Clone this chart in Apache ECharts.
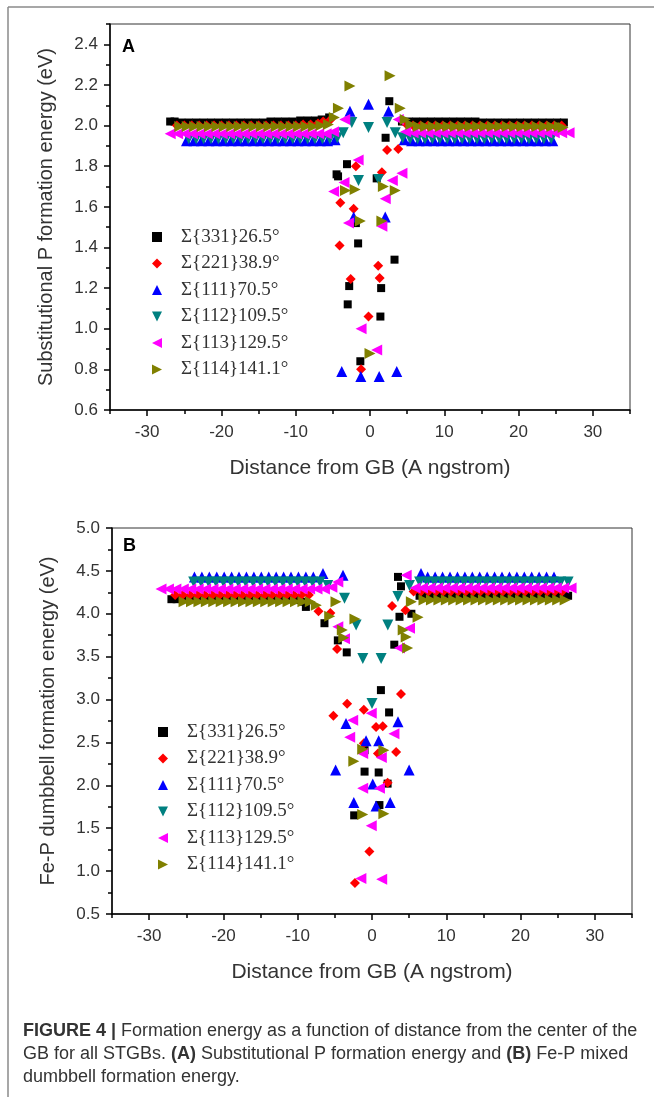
<!DOCTYPE html>
<html><head><meta charset="utf-8">
<script src="https://cdn.jsdelivr.net/npm/echarts@6/dist/echarts.min.js"></script>
<style>html,body{margin:0;padding:0;background:#fff}#c{width:654px;height:1097px}</style>
</head><body><div id="c"></div>
<script>
// ---------- DATA ----------
const seriesNames = ['Σ{331}26.5°','Σ{221}38.9°','Σ{111}70.5°','Σ{112}109.5°','Σ{113}129.5°','Σ{114}141.1°'];
const xTicksMajor = [-30,-20,-10,0,10,20,30];
const xTicksMinor = [-35,-25,-15,-5,5,15,25,35];
const yTicksMajorA = [0.6,0.8,1.0,1.2,1.4,1.6,1.8,2.0,2.2,2.4];
const yTicksMinorA = [0.7,0.9,1.1,1.3,1.5,1.7,1.9,2.1,2.3,2.5];
const yTicksMajorB = [0.5,1.0,1.5,2.0,2.5,3.0,3.5,4.0,4.5,5.0];
const yTicksMinorB = [0.75,1.25,1.75,2.25,2.75,3.25,3.75,4.25,4.75];

// Panel A: substitutional P formation energy (eV) vs distance (Å)
const A_s331 = [[-26.9,2.02],[-26.3,2.02],[-25.4,2.015],[-24.4,2.015],[-23.4,2.015],[-22.4,2.015],[-21.4,2.015],[-20.4,2.015],[-19.4,2.015],[-18.4,2.015],[-17.4,2.015],[-16.4,2.015],[-15.4,2.015],[-14.4,2.015],[-13.4,2.02],[-12.4,2.02],[-11.4,2.02],[-10.4,2.02],[-9.4,2.025],[-8.4,2.025],[-7.4,2.025],[-6.5,2.03],[-5.5,2.04],
[-4.5,1.76],[-4.3,1.75],[-3.1,1.81],[-1.9,1.52],[-1.6,1.42],[-2.8,1.21],[-3.0,1.12],[-1.3,0.84],[0.9,1.74],[2.6,2.12],[2.1,1.94],[3.3,1.34],[1.5,1.2],[1.4,1.06],
[4.3,2.02],[5.2,2.02],[6.2,2.02],[7.2,2.02],[8.2,2.02],[9.2,2.02],[10.2,2.02],[11.2,2.02],[12.2,2.02],[13.2,2.02],[14.2,2.02],[15.2,2.015],[16.2,2.015],[17.2,2.015],[18.2,2.015],[19.2,2.015],[20.2,2.015],[21.2,2.015],[22.2,2.015],[23.2,2.015],[24.2,2.015],[25.2,2.015],[26.1,2.015]];
const A_s221 = [[-26.0,2.0],[-25.0,2.0],[-24.0,2.0],[-23.0,2.0],[-22.0,2.0],[-21.0,2.0],[-20.0,2.0],[-19.0,2.0],[-18.0,2.0],[-17.0,2.0],[-16.0,2.0],[-15.0,2.0],[-14.0,2.0],[-13.0,2.0],[-12.0,2.0],[-11.0,2.0],[-10.0,2.0],[-9.0,2.005],[-8.0,2.005],[-7.0,2.01],[-6.3,2.02],[-5.3,2.03],
[-1.9,1.8],[-4.0,1.62],[-2.2,1.59],[-4.1,1.41],[-2.6,1.245],[-0.2,1.06],[-1.2,0.8],[2.3,1.88],[3.8,1.885],[1.6,1.77],[1.1,1.31],[1.3,1.25],
[4.8,2.01],[5.8,2.0],[6.8,2.0],[7.8,2.0],[8.8,2.0],[9.8,2.0],[10.8,2.0],[11.8,2.0],[12.8,2.0],[13.8,2.0],[14.8,2.0],[15.8,2.0],[16.8,2.0],[17.8,2.0],[18.8,2.0],[19.8,2.0],[20.8,2.0],[21.8,2.0],[22.8,2.0],[23.8,2.0],[24.8,2.0],[25.8,2.0]];
const A_s111 = [[-24.7,1.925],[-23.7,1.925],[-22.7,1.925],[-21.7,1.925],[-20.7,1.925],[-19.7,1.925],[-18.7,1.925],[-17.7,1.925],[-16.7,1.925],[-15.7,1.925],[-14.7,1.925],[-13.7,1.925],[-12.7,1.925],[-11.7,1.925],[-10.7,1.925],[-9.7,1.925],[-8.7,1.925],[-7.7,1.925],[-6.7,1.925],[-5.7,1.925],[-4.7,1.93],
[-2.7,2.07],[-0.2,2.105],[2.5,2.07],[-2.2,1.55],[2.05,1.55],[-3.8,0.79],[-1.24,0.765],[1.24,0.765],[3.6,0.79],
[4.6,1.93],[5.6,1.925],[6.6,1.925],[7.6,1.925],[8.6,1.925],[9.6,1.925],[10.6,1.925],[11.6,1.925],[12.6,1.925],[13.6,1.925],[14.6,1.925],[15.6,1.925],[16.6,1.925],[17.6,1.925],[18.6,1.925],[19.6,1.925],[20.6,1.925],[21.6,1.925],[22.6,1.925],[23.6,1.925],[24.6,1.925]];
const A_s112 = [[-24.4,1.935],[-23.4,1.935],[-22.4,1.935],[-21.4,1.935],[-20.4,1.935],[-19.4,1.935],[-18.4,1.935],[-17.4,1.935],[-16.4,1.935],[-15.4,1.935],[-14.4,1.935],[-13.4,1.935],[-12.4,1.935],[-11.4,1.935],[-10.4,1.935],[-9.4,1.935],[-8.4,1.935],[-7.4,1.935],[-6.4,1.935],[-5.4,1.935],[-4.4,1.94],
[-3.6,1.965],[-2.45,2.015],[-0.2,1.99],[2.3,2.015],[3.4,1.965],[-1.55,1.73],[1.15,1.735],
[4.4,1.94],[5.4,1.935],[6.4,1.935],[7.4,1.935],[8.4,1.935],[9.4,1.935],[10.4,1.935],[11.4,1.935],[12.4,1.935],[13.4,1.935],[14.4,1.935],[15.4,1.935],[16.4,1.935],[17.4,1.935],[18.4,1.935],[19.4,1.935],[20.4,1.935],[21.4,1.935],[22.4,1.935],[23.4,1.935],[24.4,1.935]];
const A_s113 = [[-26.9,1.96],[-25.9,1.96],[-24.9,1.96],[-23.9,1.96],[-22.9,1.96],[-21.9,1.96],[-20.9,1.96],[-19.9,1.96],[-18.9,1.96],[-17.9,1.96],[-16.9,1.96],[-15.9,1.96],[-14.9,1.96],[-13.9,1.96],[-12.9,1.96],[-11.9,1.96],[-10.9,1.96],[-9.9,1.96],[-8.9,1.96],[-7.9,1.96],[-6.9,1.96],[-5.9,1.96],[-4.9,1.97],
[-3.4,2.03],[-1.6,1.83],[-3.5,1.72],[-4.9,1.675],[-2.9,1.52],[-1.2,1.0],[0.9,0.895],[3.8,2.03],[4.3,1.765],[3.0,1.73],[2.05,1.64],[1.6,1.505],
[4.8,1.97],[5.8,1.965],[6.8,1.965],[7.8,1.965],[8.8,1.965],[9.8,1.965],[10.8,1.965],[11.8,1.965],[12.8,1.965],[13.8,1.965],[14.8,1.965],[15.8,1.965],[16.8,1.965],[17.8,1.965],[18.8,1.965],[19.8,1.965],[20.8,1.965],[21.8,1.965],[22.8,1.965],[23.8,1.965],[24.8,1.965],[25.8,1.965],[26.8,1.965]];
const A_s114 = [[-25.6,1.995],[-24.6,1.995],[-23.6,1.995],[-22.6,1.995],[-21.6,1.995],[-20.6,1.995],[-19.6,1.995],[-18.6,1.995],[-17.6,1.995],[-16.6,1.995],[-15.6,1.995],[-14.6,1.995],[-13.6,1.995],[-12.6,1.995],[-11.6,1.995],[-10.6,1.995],[-9.6,1.995],[-8.6,1.995],[-7.6,1.995],[-6.6,2.0],[-5.6,2.005],[-4.8,2.04],[-4.25,2.085],
[-2.7,2.195],[2.7,2.245],[4.07,2.085],[4.74,2.03],[-3.3,1.68],[-2.0,1.685],[1.8,1.7],[3.4,1.68],[-1.3,1.53],[1.6,1.53],[0.0,0.878],
[5.5,2.005],[6.5,1.995],[7.5,1.995],[8.5,1.995],[9.5,1.995],[10.5,1.995],[11.5,1.995],[12.5,1.995],[13.5,1.995],[14.5,1.995],[15.5,1.995],[16.5,1.995],[17.5,1.995],[18.5,1.995],[19.5,1.995],[20.5,1.995],[21.5,1.995],[22.5,1.995],[23.5,1.995],[24.5,1.995],[25.5,1.995],[26.0,1.99]];

// Panel B: Fe-P dumbbell formation energy (eV) vs distance (Å)
const B_s331 = [[-27.0,4.17],[-26.3,4.17],[-25.4,4.17],[-24.4,4.17],[-23.4,4.17],[-22.4,4.17],[-21.4,4.17],[-20.4,4.17],[-19.4,4.17],[-18.4,4.17],[-17.4,4.17],[-16.4,4.17],[-15.4,4.17],[-14.4,4.17],[-13.4,4.17],[-12.4,4.17],[-11.4,4.17],[-10.4,4.16],[-9.4,4.14],[-8.9,4.08],
[-6.4,3.89],[-4.6,3.69],[-3.4,3.55],[3.5,4.43],[3.9,4.32],[3.7,3.965],[5.3,4.0],[3.0,3.64],[1.2,3.11],[2.3,2.85],[-1.0,2.16],[0.9,2.15],[2.1,2.02],[1.0,1.77],[-2.4,1.65],[-1.0,2.41],
[6.4,4.21],[7.4,4.21],[8.4,4.21],[9.4,4.21],[10.4,4.21],[11.4,4.21],[12.4,4.21],[13.4,4.21],[14.4,4.21],[15.4,4.21],[16.4,4.21],[17.4,4.21],[18.4,4.21],[19.4,4.21],[20.4,4.21],[21.4,4.21],[22.4,4.21],[23.4,4.21],[24.4,4.21],[25.4,4.21],[26.4,4.21]];
const B_s221 = [[-26.5,4.22],[-25.5,4.22],[-24.5,4.22],[-23.5,4.22],[-22.5,4.22],[-21.5,4.22],[-20.5,4.22],[-19.5,4.22],[-18.5,4.22],[-17.5,4.22],[-16.5,4.22],[-15.5,4.22],[-14.5,4.22],[-13.5,4.22],[-12.5,4.22],[-11.5,4.22],[-10.5,4.22],[-9.5,4.22],[-8.5,4.22],[-7.2,4.03],[-5.6,4.01],
[-4.7,3.59],[2.7,4.09],[4.5,4.04],[3.9,3.065],[-3.35,2.95],[-1.1,2.88],[-5.2,2.81],[0.55,2.68],[1.45,2.69],[3.25,2.39],[-1.1,2.49],[0.8,2.37],[2.1,2.03],[-0.35,1.23],[-2.3,0.86],
[5.6,4.26],[6.6,4.26],[7.6,4.26],[8.6,4.26],[9.6,4.26],[10.6,4.26],[11.6,4.26],[12.6,4.26],[13.6,4.26],[14.6,4.26],[15.6,4.26],[16.6,4.26],[17.6,4.26],[18.6,4.26],[19.6,4.26],[20.6,4.26],[21.6,4.26],[22.6,4.26],[23.6,4.26],[24.6,4.26],[25.6,4.26]];
const B_s111 = [[-23.9,4.43],[-22.9,4.43],[-21.9,4.43],[-20.9,4.43],[-19.9,4.43],[-18.9,4.43],[-17.9,4.43],[-16.9,4.43],[-15.9,4.43],[-14.9,4.43],[-13.9,4.43],[-12.9,4.43],[-11.9,4.43],[-10.9,4.43],[-9.9,4.43],[-8.9,4.43],[-7.9,4.43],[-6.6,4.47],[-3.9,4.45],
[-3.5,2.72],[3.5,2.74],[-0.8,2.52],[0.9,2.52],[-4.9,2.18],[5.0,2.18],[0.1,2.015],[-2.45,1.8],[0.55,1.76],[2.45,1.8],
[6.6,4.47],[7.5,4.43],[8.5,4.43],[9.5,4.43],[10.5,4.43],[11.5,4.43],[12.5,4.43],[13.5,4.43],[14.5,4.43],[15.5,4.43],[16.5,4.43],[17.5,4.43],[18.5,4.43],[19.5,4.43],[20.5,4.43],[21.5,4.43],[22.5,4.43],[23.5,4.43],[24.5,4.43]];
const B_s112 = [[-24.0,4.37],[-23.0,4.37],[-22.0,4.37],[-21.0,4.37],[-20.0,4.37],[-19.0,4.37],[-18.0,4.37],[-17.0,4.37],[-16.0,4.37],[-15.0,4.37],[-14.0,4.37],[-13.0,4.37],[-12.0,4.37],[-11.0,4.37],[-10.0,4.37],[-9.0,4.37],[-8.0,4.37],[-7.0,4.37],[-5.96,4.33],
[-3.7,4.18],[-2.14,3.87],[-1.24,3.48],[1.23,3.48],[2.13,3.87],[3.48,4.2],[5.05,4.33],[0.0,2.955],
[6.4,4.37],[7.4,4.37],[8.4,4.37],[9.4,4.37],[10.4,4.37],[11.4,4.37],[12.4,4.37],[13.4,4.37],[14.4,4.37],[15.4,4.37],[16.4,4.37],[17.4,4.37],[18.4,4.37],[19.4,4.37],[20.4,4.37],[21.4,4.37],[22.4,4.37],[23.4,4.37],[24.4,4.37],[25.4,4.37],[26.4,4.37]];
const B_s113 = [[-28.4,4.29],[-27.4,4.29],[-26.4,4.29],[-25.4,4.29],[-24.4,4.29],[-23.4,4.29],[-22.4,4.29],[-21.4,4.29],[-20.4,4.29],[-19.4,4.29],[-18.4,4.29],[-17.4,4.29],[-16.4,4.29],[-15.4,4.29],[-14.4,4.29],[-13.4,4.29],[-12.4,4.29],[-11.4,4.29],[-10.4,4.29],[-9.4,4.29],[-8.4,4.29],[-7.4,4.29],[-6.4,4.29],[-5.4,4.31],[-4.6,4.37],
[-4.6,3.85],[-3.7,3.71],[3.7,3.6],[5.05,3.83],[4.6,4.45],[-0.1,2.84],[-2.6,2.76],[-3.0,2.56],[2.95,2.6],[-1.25,2.37],[1.25,2.325],[-1.25,1.965],[1.0,1.965],[-0.1,1.53],[-1.5,0.915],[1.3,0.905],
[5.8,4.3],[6.8,4.3],[7.8,4.3],[8.8,4.3],[9.8,4.3],[10.8,4.3],[11.8,4.3],[12.8,4.3],[13.8,4.3],[14.8,4.3],[15.8,4.3],[16.8,4.3],[17.8,4.3],[18.8,4.3],[19.8,4.3],[20.8,4.3],[21.8,4.3],[22.8,4.3],[23.8,4.3],[24.8,4.3],[25.8,4.3],[26.8,4.3]];
const B_s114 = [[-25.3,4.14],[-24.3,4.14],[-23.3,4.14],[-22.3,4.14],[-21.3,4.14],[-20.3,4.14],[-19.3,4.14],[-18.3,4.14],[-17.3,4.14],[-16.3,4.14],[-15.3,4.14],[-14.3,4.14],[-13.3,4.14],[-12.3,4.14],[-11.3,4.14],[-10.3,4.14],[-9.3,4.14],[-8.3,4.14],[-7.5,4.1],[-5.7,3.97],[-4.85,4.14],
[-4.0,3.81],[-3.8,3.72],[-2.3,3.94],[4.2,3.81],[4.6,3.73],[4.8,3.6],[6.2,3.96],[5.3,4.14],[-1.25,2.42],[1.6,2.41],[-2.45,2.28],[-1.25,1.66],[1.6,1.67],
[7.0,4.16],[8.0,4.16],[9.0,4.16],[10.0,4.16],[11.0,4.16],[12.0,4.16],[13.0,4.16],[14.0,4.16],[15.0,4.16],[16.0,4.16],[17.0,4.16],[18.0,4.16],[19.0,4.16],[20.0,4.16],[21.0,4.16],[22.0,4.16],[23.0,4.16],[24.0,4.16],[25.0,4.16],[26.0,4.16]];

const panelA = [A_s331,A_s221,A_s111,A_s112,A_s113,A_s114];
const panelB = [B_s331,B_s221,B_s111,B_s112,B_s113,B_s114];

// ---------- STYLE ----------
const colors = ['#000000','#ff0000','#0000ff','#008080','#ff00ff','#808000'];
const symbols = ['rect','diamond','path://M5,0L10,10L0,10Z','path://M0,0L10,0L5,10Z','path://M10,0L10,10L0,5Z','path://M0,0L10,5L0,10Z'];
const symSizes = [8,10,11,11,11,11];
const SANS = 'Liberation Sans, Arial, sans-serif';
const TXT = '#333';

function xMain(g){
  return {type:'value',gridIndex:g,min:-35,max:35,
    axisLine:{onZero:false,lineStyle:{color:'#000',width:1.5}},
    axisTick:{customValues:xTicksMajor,length:6,lineStyle:{color:'#000',width:1.5}},
    axisLabel:{customValues:xTicksMajor,fontSize:17,color:TXT,margin:14,fontFamily:SANS},
    splitLine:{show:false},
    name:'Distance from GB (A ngstrom)',nameLocation:'middle',nameGap:48,nameMoveOverlap:false,
    nameTextStyle:{fontSize:21,color:TXT,fontFamily:SANS}};
}
function xMinor(g){
  return {type:'value',gridIndex:g,min:-35,max:35,position:'bottom',
    axisLine:{show:false,onZero:false},
    axisTick:{customValues:xTicksMinor,length:4,lineStyle:{color:'#000',width:1.5}},
    axisLabel:{show:false},splitLine:{show:false}};
}
function yMain(g,min,max,ticks,name){
  return {type:'value',gridIndex:g,min:min,max:max,
    axisLine:{onZero:false,lineStyle:{color:'#000',width:1.5}},
    axisTick:{customValues:ticks,length:6,lineStyle:{color:'#000',width:1.5}},
    axisLabel:{customValues:ticks,fontSize:17,color:TXT,margin:12,fontFamily:SANS,formatter:v=>Number(v).toFixed(1)},
    splitLine:{show:false},
    name:name,nameLocation:'middle',nameGap:54,nameRotate:90,nameMoveOverlap:false,
    nameTextStyle:{fontSize:20,color:TXT,fontFamily:SANS}};
}
function yMinor(g,min,max,ticks){
  return {type:'value',gridIndex:g,min:min,max:max,position:'left',
    axisLine:{show:false,onZero:false},
    axisTick:{customValues:ticks,length:4,lineStyle:{color:'#000',width:1.5}},
    axisLabel:{show:false},splitLine:{show:false}};
}

const series = [];
panelA.forEach((d,i)=>series.push({type:'scatter',name:seriesNames[i],xAxisIndex:0,yAxisIndex:0,data:d,
  symbol:symbols[i],symbolSize:symSizes[i],itemStyle:{color:colors[i],opacity:1},emphasis:{disabled:true}}));
panelB.forEach((d,i)=>series.push({type:'scatter',name:seriesNames[i],xAxisIndex:2,yAxisIndex:2,data:d,
  symbol:symbols[i],symbolSize:symSizes[i],itemStyle:{color:colors[i],opacity:1},emphasis:{disabled:true}}));

function legend(left,top){
  return {orient:'vertical',left:left,top:top,itemWidth:10,itemHeight:10,itemGap:6.5,
    selectedMode:false,
    textStyle:{fontFamily:'Liberation Serif, DejaVu Serif, serif',fontSize:19,color:TXT,lineHeight:20,padding:[0,0,0,14]},
    data:seriesNames.map((n,i)=>({name:n,icon:symbols[i]}))};
}

const chart = echarts.init(document.getElementById('c'),null,{renderer:'canvas',width:654,height:1097});
chart.setOption({
  animation:false,
  backgroundColor:'#fff',
  grid:[
    {left:110,top:24,width:520,height:386,show:true,borderColor:'#333',borderWidth:1,backgroundColor:'transparent',containLabel:false,outerBoundsMode:'none'},
    {left:112,top:528,width:520,height:386,show:true,borderColor:'#333',borderWidth:1,backgroundColor:'transparent',containLabel:false,outerBoundsMode:'none'}
  ],
  xAxis:[xMain(0),xMinor(0),xMain(1),xMinor(1)],
  yAxis:[yMain(0,0.6,2.5,yTicksMajorA,'Substitutional P formation energy (eV)'),yMinor(0,0.6,2.5,yTicksMinorA),
         yMain(1,0.5,5.0,yTicksMajorB,'Fe-P dumbbell formation energy (eV)'),yMinor(1,0.5,5.0,yTicksMinorB)],
  legend:[legend(147,222),legend(153,717)],
  series:series,
  graphic:[
    {type:'line',shape:{x1:8,y1:7,x2:654,y2:7},style:{stroke:'#8a8a8a',lineWidth:1.5},silent:true},
    {type:'line',shape:{x1:8,y1:7,x2:8,y2:1097},style:{stroke:'#8a8a8a',lineWidth:1.5},silent:true},
    {type:'text',left:122,top:38,style:{text:'A',font:'bold 18px Liberation Sans, Arial, sans-serif',fill:'#000'},silent:true},
    {type:'text',left:123,top:537,style:{text:'B',font:'bold 18px Liberation Sans, Arial, sans-serif',fill:'#000'},silent:true},
    {type:'text',left:23,top:1020,silent:true,style:{
      text:'{b|FIGURE 4 |} Formation energy as a function of distance from the center of the\nGB for all STGBs. {b|(A)} Substitutional P formation energy and {b|(B)} Fe-P mixed\ndumbbell formation energy.',
      fontFamily:'Liberation Sans, Arial, sans-serif',fontSize:18,fill:'#333',lineHeight:23,
      rich:{b:{fontWeight:'bold',fontFamily:'Liberation Sans, Arial, sans-serif',fontSize:18,fill:'#333',lineHeight:23}}}}
  ]
});
</script></body></html>
